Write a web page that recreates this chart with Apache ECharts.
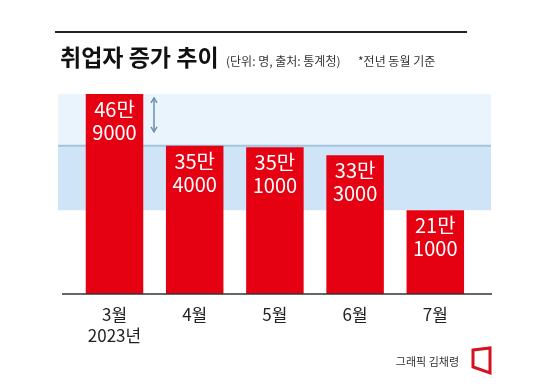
<!DOCTYPE html>
<html>
<head>
<meta charset="utf-8">
<script src="https://cdn.jsdelivr.net/npm/echarts@6/dist/echarts.min.js"></script>
<style>html,body{margin:0;padding:0;background:#fff}#c{width:550px;height:385px}</style>
</head>
<body>
<div id="c"></div>
<script>
var categories = ['3월\n2023년', '4월', '5월', '6월', '7월'];
var values = [469000, 354000, 351000, 333000, 211000];
var titleText = '취업자 증가 추이';
var unitText = '(단위: 명, 출처: 통계청)';
var noteText = '*전년 동월 기준';
var creditText = '그래픽 김채령';

var FONT = '"Noto Sans CJK KR", "Noto Sans", sans-serif';
var chart = echarts.init(document.getElementById('c'), null, {renderer: 'canvas'});

function fmt(v) {
  var man = Math.floor(v / 10000);
  var rest = String(v % 10000);
  while (rest.length < 4) rest = '0' + rest;
  return man + '만\n' + rest;
}

var option = {
  backgroundColor: '#fff',
  animation: false,
  title: [
    {text: titleText, left: 55, top: 41, textStyle: {fontFamily: FONT, fontSize: 23, fontWeight: 'bold', color: '#111'}},
    {text: unitText, left: 221, top: 50, textStyle: {fontFamily: FONT, fontSize: 12, fontWeight: 'normal', color: '#333'}},
    {text: noteText, left: 353, top: 50, textStyle: {fontFamily: FONT, fontSize: 12, fontWeight: 'normal', color: '#333'}},
    {text: creditText, right: 86, top: 351, textStyle: {fontFamily: FONT, fontSize: 11, fontWeight: 'normal', color: '#333'}}
  ],
  grid: {left: 74.4, right: 74.6, top: 80, bottom: 91, containLabel: false},
  xAxis: {
    type: 'category',
    data: categories,
    axisLine: {show: false},
    axisTick: {show: false},
    axisLabel: {fontFamily: FONT, fontSize: 17, lineHeight: 21, color: '#222', margin: 10}
  },
  yAxis: {
    type: 'value', min: 25000, max: 500000,
    show: false,
    splitLine: {show: false}
  },
  series: [{
    type: 'bar',
    data: values,
    barWidth: 57.5,
    z: 5,
    itemStyle: {color: '#e50012'},
    label: {
      show: true, position: 'insideTop', distance: 4,
      formatter: function (p) { return fmt(p.value); },
      fontFamily: FONT, fontSize: 20, lineHeight: 23, color: '#fff'
    }
  }]
};
chart.setOption(option);

var yTop = chart.convertToPixel({yAxisIndex: 0}, values[0]);
var yMid = chart.convertToPixel({yAxisIndex: 0}, values[1]);
var yLow = chart.convertToPixel({yAxisIndex: 0}, values[4]);
var yBase = chart.convertToPixel({yAxisIndex: 0}, 25000);
var xArrow = chart.convertToPixel({xAxisIndex: 0}, categories[0]) + 39.5;

chart.setOption({
  graphic: [
    {type: 'line', z: 10, shape: {x1: 55, y1: 32, x2: 467, y2: 32}, style: {stroke: '#222', lineWidth: 2}},
    {type: 'rect', z: 0, shape: {x: 58, y: yTop, width: 433, height: yMid - yTop}, style: {fill: '#eaf4fc'}},
    {type: 'rect', z: 0, shape: {x: 58, y: yMid, width: 433, height: yLow - yMid}, style: {fill: '#cfe5f7'}},
    {type: 'line', z: 1, shape: {x1: 58, y1: yMid, x2: 491, y2: yMid}, style: {stroke: '#a3c4de', lineWidth: 2}},
    {type: 'line', z: 10, shape: {x1: 62, y1: yBase, x2: 492, y2: yBase}, style: {stroke: '#333', lineWidth: 1.5}},
    {type: 'line', z: 10, shape: {x1: xArrow, y1: yTop + 4, x2: xArrow, y2: yMid - 14}, style: {stroke: '#6d8fae', lineWidth: 1.5}},
    {type: 'polyline', z: 10, shape: {points: [[xArrow - 3, yTop + 9], [xArrow, yTop + 4], [xArrow + 3, yTop + 9]]}, style: {stroke: '#6d8fae', lineWidth: 1.5, fill: null}},
    {type: 'polyline', z: 10, shape: {points: [[xArrow - 3, yMid - 19], [xArrow, yMid - 14], [xArrow + 3, yMid - 19]]}, style: {stroke: '#6d8fae', lineWidth: 1.5, fill: null}},
    {type: 'polygon', z: 10, shape: {points: [[473, 350], [490, 348], [490, 373], [473, 367]]}, style: {stroke: '#d4111c', lineWidth: 3, fill: null}}
  ]
});
</script>
</body>
</html>
